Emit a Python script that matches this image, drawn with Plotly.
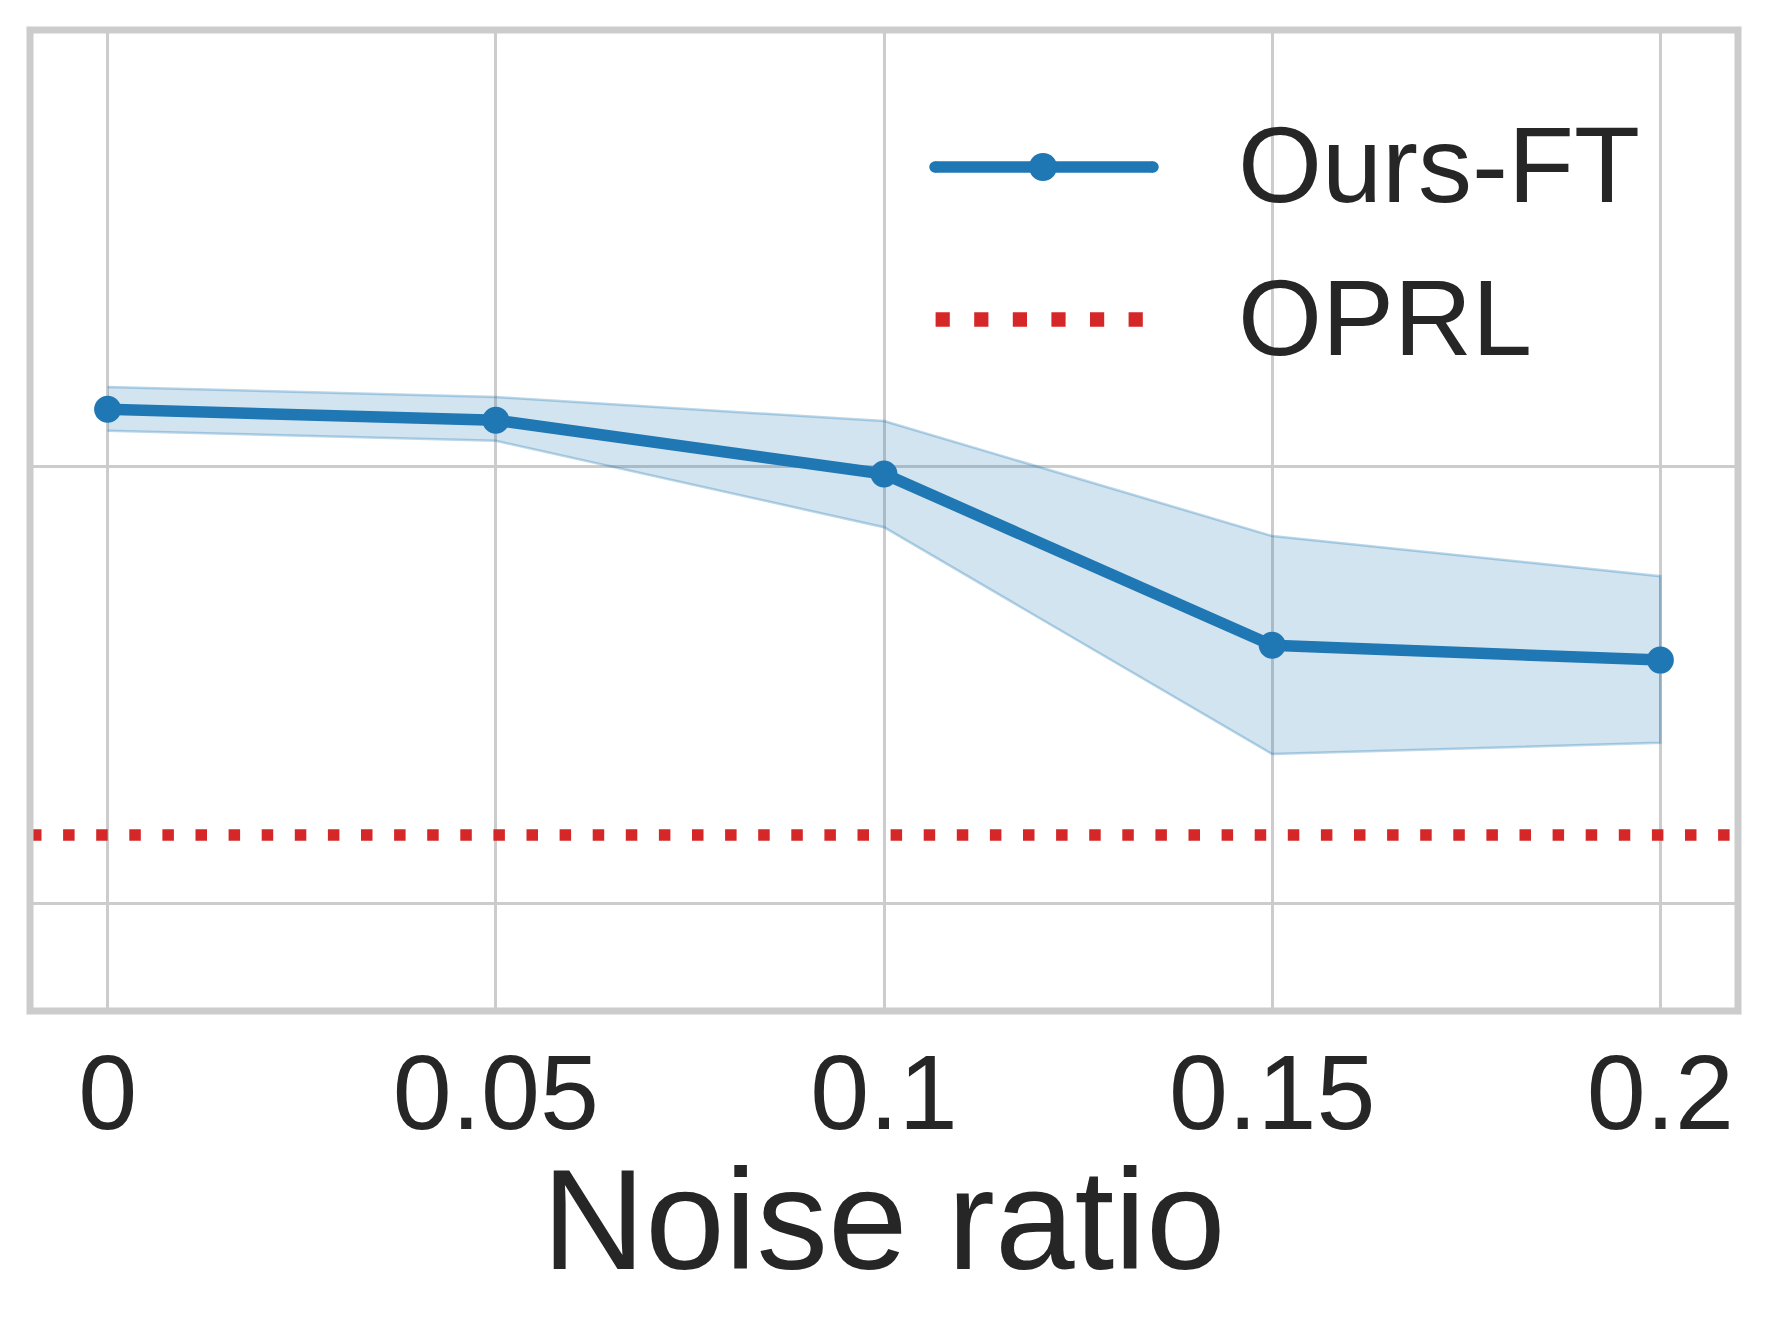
import plotly.graph_objects as go

# ---- data ----
noise_ratio = [0, 0.05, 0.1, 0.15, 0.2]
tick_labels = ["0", "0.05", "0.1", "0.15", "0.2"]
ours_mean = [0.6130, 0.6105, 0.5982, 0.5590, 0.5556]
ours_upper = [0.6181, 0.6158, 0.6103, 0.5840, 0.5748]
ours_lower = [0.6081, 0.6058, 0.5860, 0.5341, 0.5367]
oprl_value = 0.5156
x_range = [-0.01, 0.21]
y_range = [0.4753, 0.6998]
y_grid = [0.5, 0.6]

BLUE = "#1f77b4"
RED = "#d62728"
TEXT = "#262626"
GRID = "#cccccc"
FONT = "Liberation Sans, Arial, sans-serif"

W, H = 1769, 1325
L, R, T, B = 30, 31, 30, 314
PW = W - L - R
PH = H - T - B


def px2paper_x(px):
    return (px - L) / PW


def px2paper_y(py):
    return (H - B - py) / PH


fig = go.Figure()

# shaded band (closed polygon)
fig.add_trace(go.Scatter(
    x=noise_ratio + noise_ratio[::-1],
    y=ours_upper + ours_lower[::-1],
    fill="toself",
    fillcolor="rgba(31,119,180,0.2)",
    line=dict(color="rgba(31,119,180,0.3)", width=2.5),
    mode="lines",
    hoverinfo="skip",
    showlegend=False,
))

# OPRL horizontal line across the axes
fig.add_trace(go.Scatter(
    x=x_range,
    y=[oprl_value, oprl_value],
    mode="lines",
    line=dict(color=RED, width=11.5, dash="11.5px,21.6px"),
    name="OPRL",
    showlegend=False,
))

# Ours-FT mean line
fig.add_trace(go.Scatter(
    x=noise_ratio,
    y=ours_mean,
    mode="lines+markers",
    line=dict(color=BLUE, width=11.5),
    marker=dict(color=BLUE, size=27),
    name="Ours-FT",
    showlegend=False,
))

shapes = []
# frame (spines)
shapes.append(dict(type="rect", xref="paper", yref="paper", x0=0, x1=1, y0=0, y1=1,
                   line=dict(color=GRID, width=7), layer="above"))

# custom legend: Ours-FT
ly1 = px2paper_y(167)
shapes.append(dict(type="line", xref="paper", yref="paper",
                   x0=px2paper_x(935), x1=px2paper_x(1153), y0=ly1, y1=ly1,
                   line=dict(color=BLUE, width=11.5)))
for cx, r in [(935, 5.75), (1153, 5.75), (1043, 14)]:
    shapes.append(dict(type="circle", xref="paper", yref="paper",
                       xsizemode="pixel", ysizemode="pixel",
                       xanchor=px2paper_x(cx), yanchor=ly1,
                       x0=-r, x1=r, y0=-r, y1=r,
                       fillcolor=BLUE, line=dict(width=0)))
# custom legend: OPRL
ly2 = px2paper_y(319.5)
shapes.append(dict(type="line", xref="paper", yref="paper",
                   x0=px2paper_x(935.6), x1=px2paper_x(1143), y0=ly2, y1=ly2,
                   line=dict(color=RED, width=14.5, dash="14.2px,24.4px")))

annotations = [
    dict(text="Ours-FT", xref="paper", yref="paper", x=px2paper_x(1236), y=px2paper_y(165),
         xanchor="left", yanchor="middle", showarrow=False,
         font=dict(family=FONT, size=108, color=TEXT)),
    dict(text="OPRL", xref="paper", yref="paper", x=px2paper_x(1236), y=px2paper_y(317),
         xanchor="left", yanchor="middle", showarrow=False,
         font=dict(family=FONT, size=108, color=TEXT)),
    # x-axis title
    dict(text="Noise ratio", xref="paper", yref="paper", x=0.5, y=px2paper_y(1219),
         xanchor="center", yanchor="middle", showarrow=False,
         font=dict(family=FONT, size=143, color=TEXT)),
]

fig.update_layout(
    width=W, height=H,
    margin=dict(l=L, r=R, t=T, b=B, pad=0),
    paper_bgcolor="white",
    plot_bgcolor="white",
    shapes=shapes,
    annotations=annotations,
    font=dict(family=FONT, color=TEXT),
    xaxis=dict(
        range=x_range,
        tickvals=noise_ratio,
        ticktext=tick_labels,
        tickfont=dict(family=FONT, size=106, color=TEXT),
        showgrid=True, gridcolor=GRID, gridwidth=2.5,
        zeroline=False, showline=False,
        ticks="", ticklabelstandoff=11,
        automargin=False,
    ),
    yaxis=dict(
        range=y_range,
        tickvals=y_grid,
        showticklabels=False,
        showgrid=True, gridcolor=GRID, gridwidth=2.5,
        zeroline=False, showline=False, ticks="",
        automargin=False,
    ),
)

fig.write_html("out.html")
